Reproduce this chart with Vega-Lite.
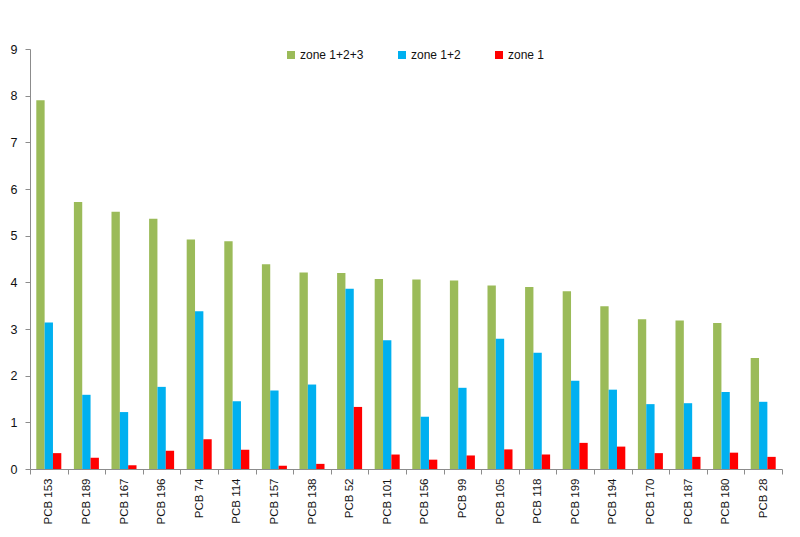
{
  "$schema": "https://vega.github.io/schema/vega-lite/v6.json",
  "autosize": {"type": "none"},
  "width": 752,
  "height": 420,
  "padding": {"left": 30, "top": 49, "right": 18, "bottom": 68},
  "background": "white",
  "config": {
    "view": {"stroke": null},
    "font": "Liberation Sans"
  },
  "data": {
    "values": [
      {"pcb": "PCB 153", "zone": "zone 1+2+3", "value": 7.90},
      {"pcb": "PCB 153", "zone": "zone 1+2", "value": 3.14},
      {"pcb": "PCB 153", "zone": "zone 1", "value": 0.34},
      {"pcb": "PCB 189", "zone": "zone 1+2+3", "value": 5.72},
      {"pcb": "PCB 189", "zone": "zone 1+2", "value": 1.59},
      {"pcb": "PCB 189", "zone": "zone 1", "value": 0.24},
      {"pcb": "PCB 167", "zone": "zone 1+2+3", "value": 5.51},
      {"pcb": "PCB 167", "zone": "zone 1+2", "value": 1.22},
      {"pcb": "PCB 167", "zone": "zone 1", "value": 0.08},
      {"pcb": "PCB 196", "zone": "zone 1+2+3", "value": 5.36},
      {"pcb": "PCB 196", "zone": "zone 1+2", "value": 1.76},
      {"pcb": "PCB 196", "zone": "zone 1", "value": 0.39},
      {"pcb": "PCB 74", "zone": "zone 1+2+3", "value": 4.92},
      {"pcb": "PCB 74", "zone": "zone 1+2", "value": 3.38},
      {"pcb": "PCB 74", "zone": "zone 1", "value": 0.64},
      {"pcb": "PCB 114", "zone": "zone 1+2+3", "value": 4.88},
      {"pcb": "PCB 114", "zone": "zone 1+2", "value": 1.45},
      {"pcb": "PCB 114", "zone": "zone 1", "value": 0.41},
      {"pcb": "PCB 157", "zone": "zone 1+2+3", "value": 4.39},
      {"pcb": "PCB 157", "zone": "zone 1+2", "value": 1.68},
      {"pcb": "PCB 157", "zone": "zone 1", "value": 0.07},
      {"pcb": "PCB 138", "zone": "zone 1+2+3", "value": 4.21},
      {"pcb": "PCB 138", "zone": "zone 1+2", "value": 1.81},
      {"pcb": "PCB 138", "zone": "zone 1", "value": 0.11},
      {"pcb": "PCB 52", "zone": "zone 1+2+3", "value": 4.20},
      {"pcb": "PCB 52", "zone": "zone 1+2", "value": 3.86},
      {"pcb": "PCB 52", "zone": "zone 1", "value": 1.33},
      {"pcb": "PCB 101", "zone": "zone 1+2+3", "value": 4.07},
      {"pcb": "PCB 101", "zone": "zone 1+2", "value": 2.76},
      {"pcb": "PCB 101", "zone": "zone 1", "value": 0.31},
      {"pcb": "PCB 156", "zone": "zone 1+2+3", "value": 4.06},
      {"pcb": "PCB 156", "zone": "zone 1+2", "value": 1.12},
      {"pcb": "PCB 156", "zone": "zone 1", "value": 0.20},
      {"pcb": "PCB 99", "zone": "zone 1+2+3", "value": 4.04},
      {"pcb": "PCB 99", "zone": "zone 1+2", "value": 1.74},
      {"pcb": "PCB 99", "zone": "zone 1", "value": 0.29},
      {"pcb": "PCB 105", "zone": "zone 1+2+3", "value": 3.93},
      {"pcb": "PCB 105", "zone": "zone 1+2", "value": 2.79},
      {"pcb": "PCB 105", "zone": "zone 1", "value": 0.42},
      {"pcb": "PCB 118", "zone": "zone 1+2+3", "value": 3.90},
      {"pcb": "PCB 118", "zone": "zone 1+2", "value": 2.49},
      {"pcb": "PCB 118", "zone": "zone 1", "value": 0.31},
      {"pcb": "PCB 199", "zone": "zone 1+2+3", "value": 3.81},
      {"pcb": "PCB 199", "zone": "zone 1+2", "value": 1.89},
      {"pcb": "PCB 199", "zone": "zone 1", "value": 0.56},
      {"pcb": "PCB 194", "zone": "zone 1+2+3", "value": 3.49},
      {"pcb": "PCB 194", "zone": "zone 1+2", "value": 1.70},
      {"pcb": "PCB 194", "zone": "zone 1", "value": 0.48},
      {"pcb": "PCB 170", "zone": "zone 1+2+3", "value": 3.21},
      {"pcb": "PCB 170", "zone": "zone 1+2", "value": 1.39},
      {"pcb": "PCB 170", "zone": "zone 1", "value": 0.34},
      {"pcb": "PCB 187", "zone": "zone 1+2+3", "value": 3.18},
      {"pcb": "PCB 187", "zone": "zone 1+2", "value": 1.41},
      {"pcb": "PCB 187", "zone": "zone 1", "value": 0.26},
      {"pcb": "PCB 180", "zone": "zone 1+2+3", "value": 3.13},
      {"pcb": "PCB 180", "zone": "zone 1+2", "value": 1.65},
      {"pcb": "PCB 180", "zone": "zone 1", "value": 0.35},
      {"pcb": "PCB 28", "zone": "zone 1+2+3", "value": 2.38},
      {"pcb": "PCB 28", "zone": "zone 1+2", "value": 1.44},
      {"pcb": "PCB 28", "zone": "zone 1", "value": 0.26}
    ]
  },
  "mark": {"type": "bar"},
  "encoding": {
    "x": {
      "field": "pcb",
      "type": "nominal",
      "sort": null,
      "title": null,
      "scale": {"paddingInner": 0, "paddingOuter": 0},
      "axis": {
        "labelAngle": -90,
        "labelFontSize": 11.5,
        "labelColor": "#111111",
        "labelPadding": 4,
        "tickBand": "extent",
        "tickSize": 5,
        "tickColor": "#8c8c8c",
        "domainColor": "#8c8c8c",
        "grid": false
      }
    },
    "xOffset": {
      "field": "zone",
      "type": "nominal",
      "sort": ["zone 1+2+3", "zone 1+2", "zone 1"],
      "scale": {"paddingInner": 0, "paddingOuter": 0.755}
    },
    "y": {
      "field": "value",
      "type": "quantitative",
      "title": null,
      "scale": {"domain": [0, 9], "nice": false},
      "axis": {
        "values": [0, 1, 2, 3, 4, 5, 6, 7, 8, 9],
        "grid": false,
        "labelFontSize": 12.5,
        "labelColor": "#111111",
        "labelPadding": 8,
        "tickSize": 5,
        "tickColor": "#8c8c8c",
        "domainColor": "#8c8c8c"
      }
    },
    "color": {
      "field": "zone",
      "type": "nominal",
      "sort": ["zone 1+2+3", "zone 1+2", "zone 1"],
      "scale": {
        "domain": ["zone 1+2+3", "zone 1+2", "zone 1"],
        "range": ["#9BBB59", "#00B0F0", "#FF0000"]
      },
      "legend": {
        "title": null,
        "orient": "none",
        "legendX": 255,
        "legendY": 0,
        "direction": "horizontal",
        "columns": 3,
        "columnPadding": 32,
        "padding": 0,
        "symbolType": "square",
        "symbolSize": 64,
        "symbolStrokeWidth": 0,
        "labelFontSize": 12,
        "labelColor": "#111111",
        "labelOffset": 3
      }
    }
  }
}
